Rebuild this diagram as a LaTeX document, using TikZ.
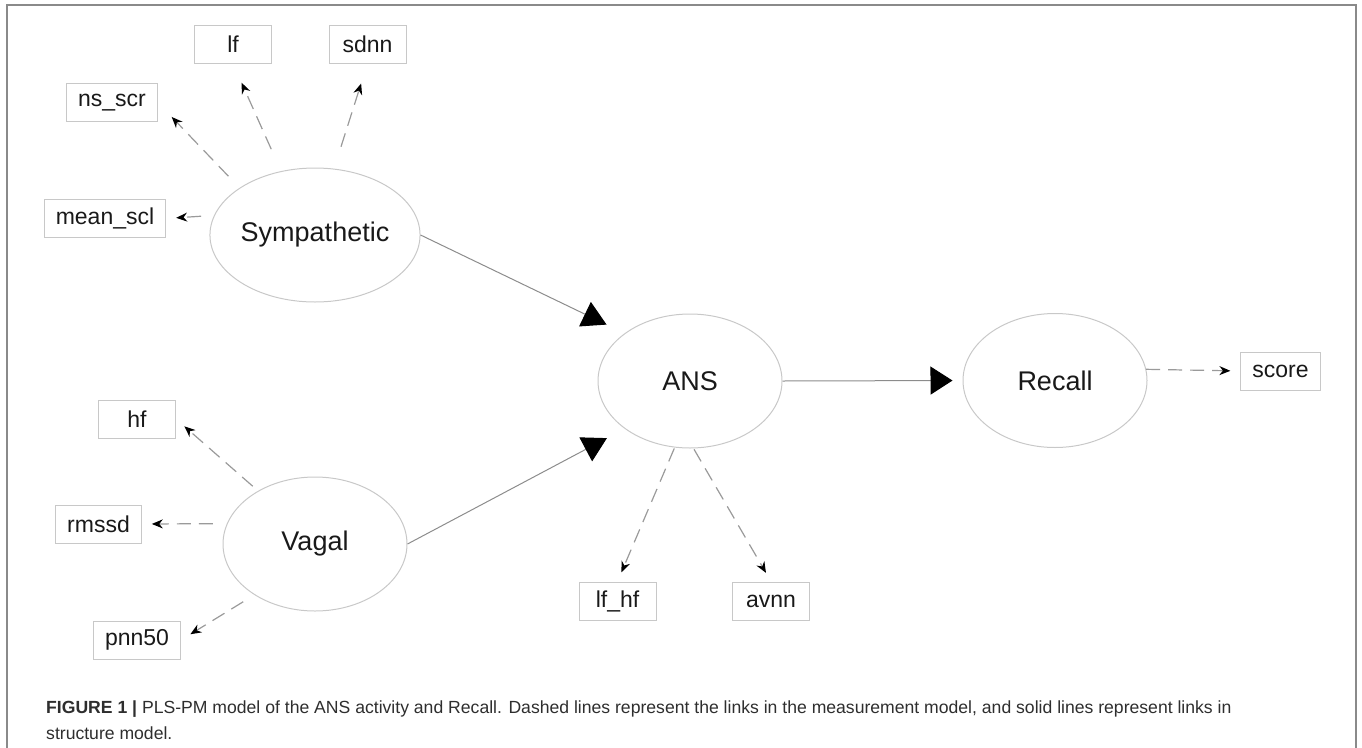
\documentclass[tikz,border=0pt]{standalone}
\usepackage{fontspec}
\setmainfont{Liberation Sans}
\usetikzlibrary{shapes.geometric,arrows.meta,calc}
\definecolor{framegray}{HTML}{8A8A8A}
\definecolor{shapegray}{HTML}{C8C8C8}
\definecolor{linegray}{HTML}{8C8C8C}
\definecolor{dashgray}{HTML}{9A9A9A}
\definecolor{captext}{HTML}{2E2E2E}
\begin{document}
\begin{tikzpicture}[x=1pt,y=-1pt,
  latent/.style={ellipse, draw=shapegray, line width=1pt, minimum width=184pt, minimum height=134pt, inner sep=0pt, font=\fontsize{27}{32}\selectfont, text=black!90},
  manifest/.style={rectangle, draw=shapegray, line width=1pt, minimum width=77pt, minimum height=38pt, inner xsep=11.5pt, inner ysep=0pt, font=\fontsize{23}{28}\selectfont, text=black!90},
  measure/.style={draw=dashgray, line width=1.2pt, dash pattern=on 14pt off 8pt, -{Stealth[length=11pt,width=9pt,color=black]}},
  structural/.style={draw=linegray, line width=1pt, -{Triangle[length=24pt,width=27pt,color=black]}},
  structh/.style={draw=linegray, line width=1pt, -{Triangle[length=22pt,width=28pt,color=black]}}
]
\useasboundingbox (0,0) rectangle (1362,747);
\draw[framegray, line width=2pt] (7,748) -- (7,5) -- (1356,5) -- (1356,748);

% latent variables
\node[latent] (sym) at (315,235) {Sympathetic};
\node[latent] (vag) at (315,544) {Vagal};
\node[latent] (ans) at (690,381) {ANS};
\node[latent] (rec) at (1055,380.5) {Recall};

% manifest variables
\node[manifest] (lf) at (233,44) {lf};
\node[manifest] (sdnn) at (367.5,44) {sdnn};
\node[manifest] (ns) at (112,102.5) {ns\_scr};
\node[manifest] (mean) at (105,218.5) {mean\_scl};
\node[manifest] (hf) at (137,419) {hf};
\node[manifest] (rmssd) at (98.5,524) {rmssd};
\node[manifest] (pnn) at (137,640) {pnn50};
\node[manifest] (lfhf) at (617.5,601) {lf\_hf};
\node[manifest] (avnn) at (771,601) {avnn};
\node[manifest] (score) at (1280.5,371) {score};

% measurement links
\draw[measure, shorten <=24pt, shorten >=21pt] (sym.118) -- (lf.south);
\draw[measure, shorten <=23pt, shorten >=21pt] (sym.74) -- (sdnn.south);
\draw[measure, shorten <=16pt, shorten >=20pt] (sym.148) -- (ns.east);
\draw[measure, shorten <=13pt, shorten >=10pt] (sym.169) -- (mean.east);
\draw[measure, shorten <=7pt, shorten >=11pt] (vag.137) -- (hf.east);
\draw[measure, shorten <=14pt, shorten >=10pt] (vag.167) -- (rmssd.east);
\draw[measure, shorten <=13pt, shorten >=11pt] (vag.220) -- (pnn.east);
\draw[measure, shorten <=1pt, shorten >=10pt] (ans.257) -- (lfhf.north);
\draw[measure, shorten <=1pt, shorten >=10pt] (ans.273) -- (avnn.north);
\draw[measure, shorten >=10pt] (rec.7) -- (score.west);

% structural links
\draw[structural, shorten >=20pt] (sym.east) -- (ans.north west);
\draw[structural, shorten >=20pt] (vag.east) -- (ans.south west);
\draw[structh, shorten >=10pt] (ans.east) -- (rec.west);

% caption
\node[anchor=base west, inner sep=0pt, text=captext, font=\fontsize{17.6}{21}\selectfont] (cap1) at (46,713) {\textbf{FIGURE 1 |} PLS-PM model of the ANS activity and Recall. Dashed lines represent the links in the measurement model, and solid lines represent links in};
\node[anchor=base west, inner sep=0pt, text=captext, font=\fontsize{17.6}{21}\selectfont] (cap2) at (46,739) {structure model.};
\end{tikzpicture}
\end{document}
